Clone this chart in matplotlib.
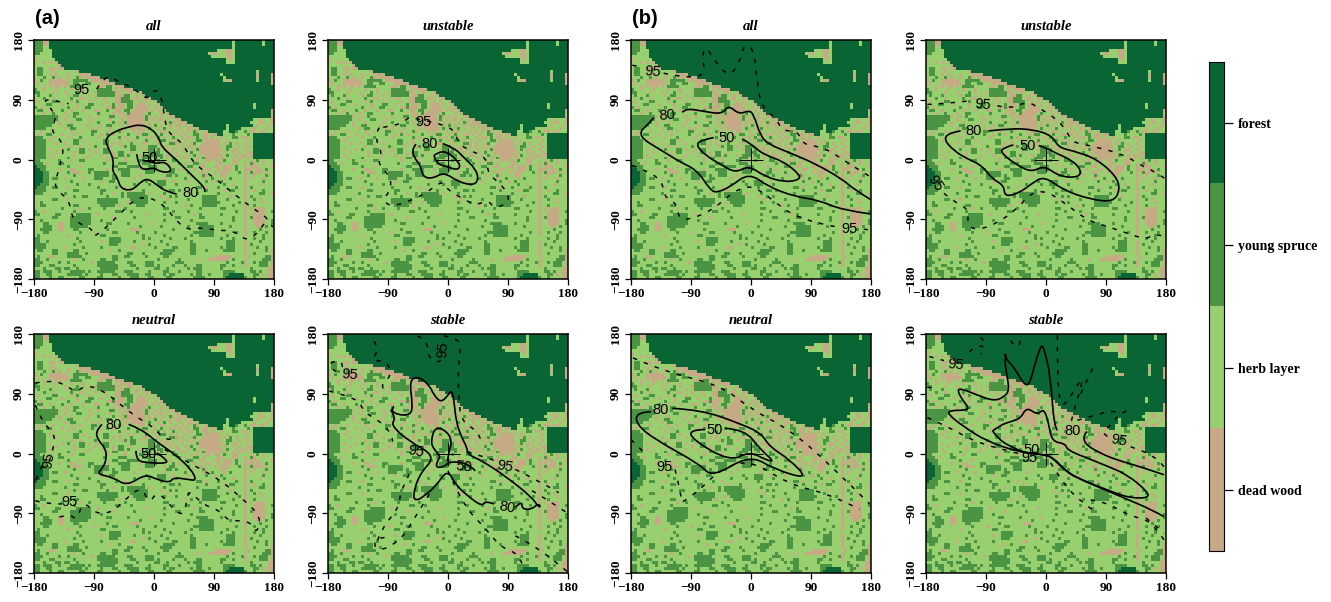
import numpy as np
import matplotlib
matplotlib.use('Agg')
import matplotlib.pyplot as plt
from matplotlib.colors import ListedColormap
from matplotlib.path import Path
from matplotlib.patches import PathPatch

# land cover, top row first. F forest, Y young spruce, . herb layer, D dead wood
cover_rows = [
"YYYDDFFFFF FFFFFFFFFF FFFFFFFFFF FFFFFFFFFF FFFFFFFFFF FFFFFFFFFF FFFFFF.FFF FFFFFF.FFF",
"YYYDDFFFFF FFFFFFFFFF FFFFFFFFFF FFFFFFFFFF FFFFFFFFFF FFFFFFFFFF FFFFFF.FFF FFFFFF.FFF",
"YYY..FFFFF FFFFFFFFFF FFFFFFFFFF FFFFFFFFFF FFFFFFFFFF FFFFFFFFFF FFFFFF.FFF FFFFFFFFFF",
"YYY...FFFF FFFFFFFFFF FFFFFFFFFF FFFFFFFFFF FFFFFFFFFF FFFFFFFFFF F...DD.FFF FFFFFFFFFF",
"YY....FFFF FFFFFFFFFF FFFFFFFFFF FFFFFFFFFF FFFFFFFFFF FFFFFFFF.D D...DD.FFF FFFFFFFFFF",
"......FFFF FFFFFFFFFF FFFFFFFFFF FFFFFFFFFF FFFFFFFFFF FFFFFFFFF. ....DD.FFF FFFFFFFFFF",
"D......FFF FFFFFFFFFF FFFFFFFFFF FFFFFFFFFF FFFFFFFFFF FFFFFFFFFF FFFF.D.FFF FFFFFFFFFF",
"...D.D.DFF FFFFFFFFFF FFFFFFFFFF FFFFFFFFFF FFFFFFFFFF FFFFFFFFFF FFFF...FFF FFFFFFFFFF",
"........DF FFFFFFFFFF FFFFFFFFFF FFFFFFFFFF FFFFFFFFFF FFFFFFFFFF FFFFFFFFFF FFFFFFFFFF",
".YY..DD.DD FFFFFFFFFF FFFFFFFFFF FFFFFFFFFF FFFFFFFFFF FFFFFFFFFF FFFFFFFFFF FFFFFFFFFF",
".YY...D... ....DFFFFF FFFFFFFFFF FFFFFFFFFF FFFFFFFFFF FFFFFFFFFF FFFFFFFFFF FFFF.FFFFF",
".YY..D.D.. .D...DDDDF FFFFFFFFFF FFFFFFFFFF FFFFFFFFFF FFFFFFFFFF FF.FFFFFFF FFFFDFFFFD",
"...Y..Y.D. .D..YD.DDD DDFFFFFFFF FFFFFFFFFF FFFFFFFFFF FFFFFFFFFF FFF.FFFFFF FFFFDFFFFD",
"D.Y..DDDDD D..YYYYY.D DDDDDFFFFF FFFFFFFFFF FFFFFFFFFF FFFFFFFFFF FFF.DDFFFF FFFF.FFFFD",
".D...DDDDD DD.YY..YY. ..DDDDDFFF FFFFFFFFFF FFFFFFFFFF FFFFFFFFFF FFFFFFFFFF FFFFFFFFFD",
"...D.D.DD. D.YYYY.... .DD.YY.DDD FFFFFFFFFF FFFFFFFFFF FFFFFFFFFF FFFFFFFFFF FFFFFFFFFF",
"Y..D...D.. ..D...D... .YYYYY.D.D DDDFFFFFFF FFFFFFFFFF FFFFFFFFFF FFFFFFFFFF FFFFFFFFFF",
"YY....D... D...Y.D... DYYYYYYDD. .DD..DFFFF FFFFFFFFFF FFFFFFFFFF FFFFFFFFFF FFFFFFFFFF",
".Y...Y.... .D.YY...D. .YYYYYY.DD YY..D.DFFF FFFFFFFFFF FFFFFFFFFF FFFFFFFFFF FFFFFFFFFF",
"...Y..D... ..Y..DD... D..D...DDY YY.DD..DDF FFFFFFFFFF FFFFFFFFFF FFFFFFFFFF FFFFFFFFFF",
".D....YY.. ..D.Y...D. ....D..DDY YYY..D.D.. DFFFFFFFFF FFFFFFFFFF FFFFFFFFFF FFFFFFFFFF",
"....YY...D ....D...YY ..D...Y.DD .YY.DDD.D. .DFFFFFFFF FFFFFFFFFF FFFFFFFFFF FFF.FFFFFF",
"Y.D....... .Y..D..YY. ....DDYDDD .YY.DDDD.. D.DFFFFFFF FFFFFFFFFF FFFFFFFFFF FFF.FFFFFF",
".YY..D...Y ..D...D... DD..Y..DD. YY.DDDDD.D .D.DFFFFFF FFFFFFFFFF FFFFFFFFFF FFFFFFFFFD",
"...D..Y... D..YY..... .Y....D.DD .YDDDDD.Y. ..D.DFFFFF FFFFFFFFFF FFFFFFFFFF FFFFFFFFF.",
"YYYYYYYYD. .D.Y....D. .D...YY.D. DDDDDD.YD. D.D..DDFFF FFFFFFFFFF FFFFFFFFFF FFFFFFFFFD",
"YYYYYYYY.. D...YY...D .....D...D .DDDDDDY.D .DD.D..DDF FFFFFFFFFF FFFFFFFFFF FFF..D...D",
"YYYYYYY.D. ..D.....D. .Y....Y.D. YDDDDDD.D. D..D.YD.DD DFFFFFFFFF FFFFFFFFFF FF...DD..D",
"YYYYYY..D. .YY....D.. ..D.YY...D .DDDDDD.D. Y.D..D.DD. D.DFFFFFFF FFFF.FFFFF FFF.D...D.",
"YYYY...... D.YY.....D .D...D.... D.DDDDD.Y. .D.Y.D..D. .DD.DFFFFF FFFF.FFFF. ...D...D..",
"..D...D... ..D..D...Y Y...D...YD ...D.DD..D ..DD...D.D .D.YD..DFF FFF..FFY.. Y.DD.DD...",
".D..YY...D ...D.....Y ..D.Y.D... .Y..D.YY.. D.Y..DD.D. D..YY.DD.D DFF...Y... .Y.FFFFFFF",
"YYY...D... .D...Y.... .D......Y. D...Y..D.D .Y.D..Y..D .DD.Y.DD.D ..D...YY.D D..FFFFFFF",
"YYYY.D.... ...YY.D... ...YY...D. .D.D...Y.. D.YY.D.D.. D...YY.DDD DD..D..... .D.FFFFFFF",
"YYYY...D.. D..YY...D. ...YY.D.D. ..Y...DD.. .D...YYD.D ..DY..DDDD DD.D.Y.D.. D..FFFFFFF",
"YYYY...... ..D..D.... Y....D...D Y.YY.D..YY Y.D.D..D.D .D.D.DDDDD DD..YY..D. .D.FFFFFFF",
"YYYY.D...D .Y...YY.D. .D.YY..... ..YY...DYY .Y.DD.D..D ..D.YDDDDD DDD.Y.DD.. D..FFFFFFF",
"YYYY...D.. ...D.YY... D..YY.D.YY ..D.....YY YY...D.D.. D.Y..DDDDD DD.D..D.D. .DDFFFFFFF",
"YYYY.D.... ...D....D. ..D...D.YY .Y...D.YYY .YY.D..DD. .D.Y.D.DDD DDD.Y..D.D D.DFFFFFFF",
"YYYY..D... .Y.....D.. ....D.YY.. D.....YYY. D.Y.D.Y..D D...D.YDDD D.DD..D.DD .D.FFFFFFF",
"YY......Y. ..D..YY... ....D..... D....YY.D. .Y....YY.. ..D.D..DD. DD.Y..DD.. ..D.Y.D...",
"YYY.D...YY .......... ...Y....YY Y.....YYY. ...D....Y. D..YY.D... .DD...DD.. D.YD..D...",
"FYYY...... .Y...D.... ......YY.. .YYYY...YY Y....D.... .YY..DD... DD.DDD.Y.. D.DDD....D",
"FFYY....D. ..DD....YY ....D...YY YY...D.YYY Y.....Y.D. ...D...DD. .D.DDD.Y.. DDD.DD.Y..",
"FFFYY..... .Y.DDD..Y. YYYYY....Y YY.....YYY ...D.YY... .Y...DD... D.DDD...Y. D.YDDD.D..",
"FFFYY..... ...Y...... YYYYY.Y..Y YY...D.... ....YY.Y.. ..D...YD.. ..DD...... D..D...Y..",
"FFFYY.YY.. D.....D... YYY...YY.. ...D...... ...D...... Y.....D..Y ...D.Y.... D.D...D...",
"FFFYY..... ..Y....... ..D..YY... .......Y.. .YYY..D... .D.....Y.. D.Y....... D.....Y...",
"FFYYY..... ....Y...Y. .......... ...Y....Y. .YYY...Y.. .......... ...Y..D... D....D....",
"FYYY..YY.. .D........ .Y.....Y.. D......... ..Y....... ....YY.D.. .Y.....Y.. D.Y.......",
"YYYY...... ...YY..... ..YY...... ..D...Y... .....YY.Y. .......Y.. ...D.YY... D..D..Y...",
"YYY....... Y......... ..Y...D..Y .YYYYYY.D. ...Y...... ....Y..... .Y........ D....YY..D",
".......... ...Y..YY.. ....Y....Y .YYYYYYY.. ..D..Y.Y.. ......YYYY Y....D.... D.Y.......",
"......YY.. .D........ .YYYYYYY.. ..YYYYYY.. ....D..... .Y....YYYY Y...Y..... D..Y.D....",
"..Y....... .......... .YYYYYYY.. .D.YYYYY.. ...Y...Y.. ......YYYY YY......Y. D.....D...",
"..YY...... ...YY..... ..YYYYY.D. ....YYY... .......... D.Y...YYYY Y.....Y... D..Y......",
".........Y .....D..Y. ...Y...... Y......... ...YY..... .....Y.... ..YY...... D.D.DDD...",
"Y..D...... ...Y...... .......YY. ..Y....... ......Y... .Y........ .......Y.. D..DDDD..Y",
"YY.....YY. ....YYYYY. .D........ .......D.. ...Y...... ...D.Y.... ..Y....... D..DDDD...",
"......YY.. ..YYYYYYY. ......D... ...Y...... .......YY. .....YY... ......Y... D.YDDDD...",
"..Y....... ..YYYYYYY. ..Y....... .......... ...Y...... ..Y....... ......Y... D..DDDD..Y",
"...YY...DD ..YYYYYYY. ....YY.... .Y......D. .......... ....YYYY.. ..Y....... D..DDDD..Y",
"...YYY..DD ..YYYYYY.. .......... .....Y.... ..Y....... .Y...YYYYY .....Y.... D...DD.Y..",
"..YYYY..DD ...YY..... ....Y..... ..DDD..... ......Y... .....YYYYY .......... D....Y....",
"...YY..... .....Y.... D.....YY.. ....Y..... Y......... ...YYYYYYY .......Y.. D..Y...Y..",
".Y........ .D........ ..YY...... ......Y... ...Y...... ..Y..YYYYY ....Y..... D.....Y...",
"YY........ ....Y..... .....YYYY. ......Y.Y. .....Y.... Y......... ..Y...Y... ...Y..Y...",
"YY..Y..... .....Y.... ..D..YYYY. ...Y...... ..Y....... ..Y....... ....YYY... D....Y....",
"YYYY...... ...Y...... .....YYY.. ......D.Y. ....Y..... ..YY...... ....YYY... D.Y.......",
"YYYY...... D.....Y... ..Y....... ..DD...... Y.....YY.. ..YY...... ..Y.YYY... D...Y..Y..",
".YY...YY.. ...YY..... .....D..Y. .......... ...YYYY... ..YY...Y.. ...YYYY... D......Y.D",
"......YY.. .YYYY..Y.. .......... .YY...Y... ..YYYY.... ..YY...... .......... D..Y.....D",
".Y...DD... .YYYYY.... ......YY.. YY.....Y.. ...YY..... .......... DDDDDD.... .D.....YYD",
"YY..Y..... ...D..Y... ..YY..YY.. .......... .Y......Y. ....D...DD DDDDD.Y... D.....YYYD",
"YYY.....Y. .Y.......D .YYYYYY... .YY....YYY .......YYY .......... ....Y....Y D..Y.YYY.D",
"YY...YY... ...Y...... .YYYYYYY.. ..YY...YYY .Y....Y... Y...YY.... ..YY..Y... D....YYY.D",
"...Y...YY. YY..Y..... ..YYYYYY.. ....Y..... YY..Y..... .Y.YYY.... ..Y....... ..Y.....DD",
"YY.YYY..Y. ..YYYYY.Y. .YYYYYY... YYY.....Y. ...YY...Y. ....YY.... ...YYYY... ..YY.Y..DD",
"YY..YY.... .YYYYY.Y.. ..Y...YY.. .YYYY..YY. ...Y.YY... ..Y.YY..Y. ...YYFFFFF ...YY.D.DD",
"YY...Y..YY .....YY... .YY.....Y. ..YYY...YY ....YY.... ...YYYY... ...YFFFFFF Y..Y....DD",
]

cover_levels = ['D', '.', 'Y', 'F']
cover_names = ['dead wood', 'herb layer', 'young spruce', 'forest']
cover_colors = ['#C6A985', '#98CF6F', '#4A9444', '#0A6535']

ticks = [-180, -90, 0, 90, 180]
tick_labels = ['\u2212180', '\u221290', '0', '90', '180']

# contour lines in degrees, one list of (x, y) per piece
a_all_50 = [[(-26, 8), (-23, -9), (-15, -16), (0, -12), (10, -19), (25, -19), (25, -12), (15, -3), (2, -7), (-10, -2)]]
a_all_80 = [[(34, -52), (20, -49), (5, -39), (-8, -29), (-18, -32), (-33, -47), (-50, -44), (-55, -27), (-63, -17),
             (-60, -2), (-68, 16), (-74, 31), (-58, 43), (-38, 49), (-20, 53), (-3, 46), (7, 33), (12, 18), (30, 3),
             (57, -24), (78, -44), (76, -49)]]
a_all_95 = [[(-86, 106), (-74, 126), (-59, 121), (-28, 106), (-10, 89), (0, 106), (10, 99), (15, 69), (20, 41), (42, 26),
             (60, -7), (90, -27), (120, -52), (150, -75), (170, -87), (178, -102)],
            [(165, -97), (145, -127), (120, -107), (95, -107), (70, -102), (45, -107), (10, -62), (-25, -54), (-60, -92),
             (-93, -120), (-90, -105), (-123, -92), (-126, -62), (-151, -42), (-143, -17), (-133, 23), (-156, 43),
             (-146, 63), (-156, 79), (-168, 94), (-128, 84)]]

a_unstable_50 = [[(-21, 6), (-18, -6), (-1, -11), (14, -16), (19, -9), (11, 1), (-1, 11), (-13, 12), (-21, 6)]]
a_unstable_80 = [[(-48, 23), (-54, 16), (-51, 3), (-41, -9), (-38, -26), (-23, -29), (-6, -19), (16, -34), (39, -39),
                  (46, -29), (41, -14), (26, 1), (9, 18), (-8, 24)]]
a_unstable_95 = [[(-103, 48), (-111, 36), (-98, 8), (-106, -6), (-86, -26), (-86, -46), (-98, -61), (-86, -71), (-61, -64),
                  (-33, -51), (-8, -31), (-1, -46), (26, -61), (41, -69), (61, -61), (69, -74), (94, -64), (84, -41),
                  (59, -21), (59, 3), (26, 16), (14, 28), (9, 46), (-21, 56), (-48, 61), (-56, 66), (-73, 51), (-103, 48)]]

a_neutral_50 = [[(-27, 4), (-27, -11), (-8, -14), (19, -15), (19, -9), (4, 1)]]
a_neutral_80 = [[(-78, 44), (-86, 36), (-86, 23), (-73, 8), (-71, -6), (-76, -21), (-86, -31), (-61, -36), (-41, -49),
                 (-13, -31), (4, -39), (24, -44), (29, -36), (51, -39), (64, -41), (56, -24), (31, -1), (6, 16), (-18, 36),
                 (-38, 44)]]
a_neutral_95 = [[(-178, 106), (-153, 111), (-128, 101), (-118, 91), (-103, 103), (-78, 96), (-53, 76), (-28, 56), (2, 38),
                 (16, 18), (36, 23)],
                [(16, 6), (66, -21), (101, -41), (136, -71), (161, -96), (154, -121), (146, -104), (126, -101), (111, -101),
                 (99, -86), (71, -76), (51, -51), (46, -96), (26, -81), (6, -56), (-8, -76), (-18, -49), (-43, -69),
                 (-63, -89), (-88, -91), (-106, -71), (-116, -101), (-126, -91), (-143, -96)],
                [(-178, -71), (-163, -76), (-138, -76)],
                [(-178, 73), (-168, 48), (-148, 28), (-151, 8), (-158, -16), (-173, -21), (-178, -46)]]

a_stable_50 = [[(41, -26), (29, -14), (1, -12), (-3, -19), (-18, -22), (-16, -11), (-11, -4), (-21, 6), (-26, 18), (-19, 41),
                (-1, 33), (6, 18), (1, 1), (-1, -12)]]
a_stable_80 = [[(-81, 71), (-86, 66), (-76, 58), (-56, 58), (-53, 73), (-58, 111), (-44, 116), (-28, 103), (-21, 88),
                (-11, 77), (-1, 86), (5, 96), (9, 81), (12, 48), (21, 23), (29, 8), (29, -1), (51, -11), (86, -34),
                (126, -66), (136, -81), (139, -79), (134, -76), (126, -84), (111, -84), (111, -71), (101, -81)],
               [(69, -76), (56, -71), (51, -80), (26, -61), (11, -46), (-1, -24), (-18, -49), (-38, -66), (-48, -71),
                (-53, -64), (-43, -31), (-18, -4), (-58, 18), (-86, 43), (-78, 53), (-86, 66)]]
a_stable_95 = [[(-178, 94), (-133, 83), (-128, 63), (-86, 38), (-83, 18)],
               [(-176, 136), (-163, 143), (-156, 128), (-173, 121), (-176, 136)],
               [(-111, 169), (-103, 158), (-116, 138), (-96, 141), (-86, 128), (-88, 113), (-103, 101), (-91, 91)],
               [(-46, 177), (-31, 171), (-31, 148), (-16, 134), (-8, 143)],
               [(-6, 177), (16, 173), (19, 158), (15, 128), (16, 83), (20, 48), (46, 33), (51, 16)],
               [(29, 3), (71, -11)], [(101, -24), (136, -41), (166, -59)], [(126, -56), (156, -74), (178, -89)],
               [(0, -26), (21, -76), (59, -116), (79, -141), (106, -151), (111, -166)],
               [(101, -124), (136, -141), (179, -178)],
               [(-58, -31), (-71, -56), (-73, -76), (-81, -91), (-98, -111), (-108, -136)],
               [(-28, -61), (-58, -111), (-73, -131), (-98, -146), (-111, -141), (-108, -126), (-86, -126)]]

b_all_50 = [[(-56, 33), (-76, 29), (-82, 21), (-68, 6), (-43, -9), (-23, -20), (-3, -9), (21, -26), (51, -34), (71, -31),
             (74, -24), (51, -4), (16, 9), (4, 21), (-13, 31)]]
b_all_80 = [[(-146, 63), (-156, 51), (-166, 43), (-163, 31), (-138, 16), (-106, -4), (-81, -16), (-61, -46), (-51, -50),
             (-31, -41), (-3, -20), (26, -41), (66, -56), (101, -61), (136, -76), (179, -82)],
            [(-103, 71), (-98, 77), (-73, 73), (-43, 68), (-34, 82), (-18, 68), (-3, 74), (4, 68), (14, 36), (26, 23),
             (56, 11), (96, -6), (136, -29), (156, -46), (179, -60)]]
b_all_95 = [[(-178, 142), (-168, 140)],
            [(-131, 130), (-68, 116), (-73, 158), (-68, 171), (-56, 151), (-33, 123), (-16, 148), (-11, 173), (4, 168),
             (9, 118), (16, 78), (39, 61), (46, 43), (71, 43), (76, 23), (111, 18), (146, -6), (179, -26)],
            [(-178, -9), (-163, -14), (-133, -31), (-131, -56), (-111, -66), (-108, -91), (-88, -89), (-58, -76), (-23, -46),
             (1, -39), (26, -56), (71, -91), (126, -101)],
            [(169, -105), (179, -106)]]

b_unstable_50 = [[(-49, 22), (-63, 18), (-69, 11), (-43, -9), (-21, -19), (-3, -9), (21, -26), (49, -27), (53, -16), (39, -1),
                  (16, 9), (-1, 18), (-11, 21)]]
b_unstable_80 = [[(-128, 43), (-143, 41), (-154, 31), (-138, 13), (-118, 1), (-96, -9), (-81, -29), (-63, -39), (-62, -56),
                  (-41, -51), (-21, -36), (-3, -25), (26, -46), (66, -60), (101, -64), (111, -46), (106, -26), (76, 1),
                  (41, 13), (19, 18), (9, 36), (-18, 45), (-53, 47), (-86, 43)]]
b_unstable_95 = [[(-178, 83), (-163, 83), (-118, 88)],
                 [(-73, 81), (-53, 76), (-28, 88), (-8, 76), (16, 61), (31, 43), (39, 26), (66, 21), (116, 8), (146, -11),
                  (156, -14), (179, -29)],
                 [(-153, -51), (-138, -64), (-116, -74), (-118, -101), (-101, -106), (-73, -96), (-43, -74), (-21, -49),
                  (1, -48), (26, -64), (61, -91), (86, -99), (116, -109), (151, -121), (161, -111), (179, -116)]]

b_neutral_50 = [[(-69, 36), (-92, 36), (-88, 21), (-32, -12), (-2, 3), (21, -9), (36, -13), (14, 6), (-9, 36), (-39, 38)]]
b_neutral_80 = [[(-150, 63), (-172, 62), (-172, 44), (-144, 21), (-77, -16), (-58, -36), (-2, -2), (36, -24), (86, -39),
                 (58, -9), (28, 10), (16, 30), (-16, 45), (-76, 66), (-118, 68)]]
b_neutral_95 = [[(-177, 144), (-129, 123), (-46, 103), (1, 66), (58, 36), (118, -16), (178, -76)],
                [(-180, 21), (-156, -3)],
                [(-114, -24), (-103, -69), (-106, -76), (-76, -54), (-46, -24), (-2, -9), (58, -47), (118, -61), (163, -84)]]

b_stable_50 = [[(-80, 34), (-68, 43), (-53, 48), (-38, 53), (-29, 70), (-13, 58), (-3, 68), (4, 45), (9, 18), (29, 15), (32, 5),
                (62, -7), (92, -19), (122, -32), (152, -57), (154, -67), (127, -67), (102, -59), (52, -39), (32, -29),
                (12, -9), (2, -2), (-28, 0), (-53, 10), (-73, 23), (-80, 34)]]
b_stable_80 = [[(177, -32), (142, -20), (107, -10), (82, 0), (57, 15), (57, 30), (62, 33)],
               [(17, 35), (12, 40), (7, 115), (-3, 160), (-8, 163), (-18, 130), (-25, 103), (-33, 104), (-48, 130), (-58, 140),
                (-63, 150), (-59, 148), (-62, 140), (-59, 120), (-55, 95), (-63, 85), (-78, 79), (-103, 88), (-128, 98),
                (-133, 95), (-125, 80), (-115, 68), (-123, 65), (-143, 65), (-148, 60), (-123, 40), (-88, 18), (-43, 3),
                (-18, 0), (-3, -2), (12, -7), (27, -24), (47, -37), (82, -52), (122, -69), (157, -84), (177, -95)]]
b_stable_95 = [[(-115, 153), (-105, 163), (-88, 160), (-98, 150)], [(-175, 146), (-153, 140)], [(-98, 175), (-88, 163)],
               [(-53, 170), (-40, 150), (-38, 175)],
               [(17, 178), (17, 115), (22, 68), (37, 85), (59, 123), (42, 65), (37, 45)], [(70, 128), (52, 90)],
               [(47, 50), (82, 60), (100, 65), (112, 58), (122, 65)], [(92, 38), (107, 55)],
               [(87, 30), (95, 23)], [(127, 10), (162, 0), (177, -20)], [(-178, 100), (-173, 100)],
               [(-178, 54), (-146, 40), (-108, 18), (-43, 0), (-33, -2)],
               [(7, -14), (27, -47), (52, -72), (70, -85)], [(67, -70), (87, -72), (127, -95), (157, -100), (177, -130)],
               [(150, -97), (177, -120)]]

# (text, x, y, rotation)
a_all_labels = [('95', -109, 104, 0), ('50', -6, 3, 0), ('80', 55, -50, 0)]
a_unstable_labels = [('95', -37, 56, 0), ('80', -28, 23, 0)]
a_neutral_labels = [('80', -60, 43, 0), ('50', -8, 0, 0), ('95', -158, -11, 80), ('95', -127, -73, 0)]
a_stable_labels = [('95', -147, 118, -5), ('95', -8, 157, 85), ('95', -48, 3, -10), ('50', 24, -20, -5),
                   ('95', 85, -19, -10), ('80', 88, -82, -10)]
b_all_labels = [('95', -148, 132, -5), ('80', -126, 66, 5), ('50', -37, 32, 0), ('95', 148, -105, 0)]
b_unstable_labels = [('95', -95, 83, -5), ('80', -108, 43, 0), ('50', -28, 20, 0), ('95', -166, -36, -55)]
b_neutral_labels = [('80', -135, 66, 0), ('50', -55, 36, 0), ('95', -130, -21, 0)]
b_stable_labels = [('95', -135, 134, -5), ('80', 40, 34, 0), ('95', 110, 19, -10), ('50', -22, 6, 0), ('95', -24, -7, 0)]

panels = [
    (34, 40, 'all', a_all_50, a_all_80, a_all_95, a_all_labels),
    (328, 40, 'unstable', a_unstable_50, a_unstable_80, a_unstable_95, a_unstable_labels),
    (34, 334, 'neutral', a_neutral_50, a_neutral_80, a_neutral_95, a_neutral_labels),
    (328, 334, 'stable', a_stable_50, a_stable_80, a_stable_95, a_stable_labels),
    (631, 40, 'all', b_all_50, b_all_80, b_all_95, b_all_labels),
    (926, 40, 'unstable', b_unstable_50, b_unstable_80, b_unstable_95, b_unstable_labels),
    (631, 334, 'neutral', b_neutral_50, b_neutral_80, b_neutral_95, b_neutral_labels),
    (926, 334, 'stable', b_stable_50, b_stable_80, b_stable_95, b_stable_labels),
]

W, H = 1331, 602
plt.rcParams['font.family'] = ['Liberation Serif', 'DejaVu Serif']

grid = np.array([[cover_levels.index(c) for c in ''.join(r.split()).ljust(80, '.')[:80]] for r in cover_rows])
cmap = ListedColormap(cover_colors)

fig = plt.figure(figsize=(W / 100, H / 100), dpi=100)


def px_axes(x, y, w, h):
    return fig.add_axes([x / W, 1 - (y + h) / H, w / W, h / H])


def draw_line(ax, piece, **kw):
    # read points used as quadratic control points, so the line comes out rounded
    pts = np.array(piece, dtype=float)
    verts = [pts[0]]
    codes = [Path.MOVETO]
    for i in range(1, len(pts) - 1):
        end = pts[i + 1] if i == len(pts) - 2 else (pts[i] + pts[i + 1]) / 2
        verts += [pts[i], end]
        codes += [Path.CURVE3, Path.CURVE3]
    if len(pts) == 2:
        verts.append(pts[1])
        codes.append(Path.LINETO)
    ax.add_patch(PathPatch(Path(verts, codes), fill=False, edgecolor='black', capstyle='butt', **kw))


for x0, y0, title, c50, c80, c95, labels in panels:
    ax = px_axes(x0, y0, 240, 239)
    ax.imshow(grid, cmap=cmap, vmin=0, vmax=3, extent=[-180, 180, -180, 180], interpolation='nearest', aspect='auto')
    for piece in c50 + c80:
        draw_line(ax, piece, lw=1.2)
    for piece in c95:
        draw_line(ax, piece, lw=1.05, linestyle=(0, (3, 5)))
    ax.plot([0], [0], marker='+', color='black', ms=17, mew=0.7)
    for txt, lx, ly, rot in labels:
        ax.text(lx, ly, txt, fontsize=10.5, family='Liberation Sans', ha='center', va='center', rotation=rot,
                color='black')
    ax.set_xlim(-180, 180)
    ax.set_ylim(-180, 180)
    ax.set_xticks(ticks)
    ax.set_xticklabels(tick_labels, fontsize=9.5, fontweight='bold')
    ax.set_yticks(ticks)
    ax.set_yticklabels(tick_labels, fontsize=9.5, fontweight='bold', rotation=90, va='center')
    ax.tick_params(length=4.5, width=0.9, pad=2)
    for s in ax.spines.values():
        s.set_linewidth(1.1)
    ax.set_title(title, fontsize=10.5, fontweight='bold', fontstyle='italic', pad=7)

fig.text(35 / W, 1 - 18 / H, '(a)', fontsize=14.5, family='Liberation Sans', fontweight='bold', va='center')
fig.text(632 / W, 1 - 18 / H, '(b)', fontsize=14.5, family='Liberation Sans', fontweight='bold', va='center')

cax = px_axes(1209, 62, 15, 489)
cax.imshow(np.array([[3], [2], [1], [0]]), cmap=cmap, vmin=0, vmax=3, extent=[0, 1, 0, 4], aspect='auto',
           interpolation='nearest')
cax.set_xticks([])
cax.yaxis.tick_right()
cax.set_yticks([0.5, 1.5, 2.5, 3.5])
cax.set_yticklabels(cover_names, fontsize=10, fontweight='bold')
cax.tick_params(length=6.5, width=0.9, pad=3.5)

fig.savefig('out.png', dpi=100)
